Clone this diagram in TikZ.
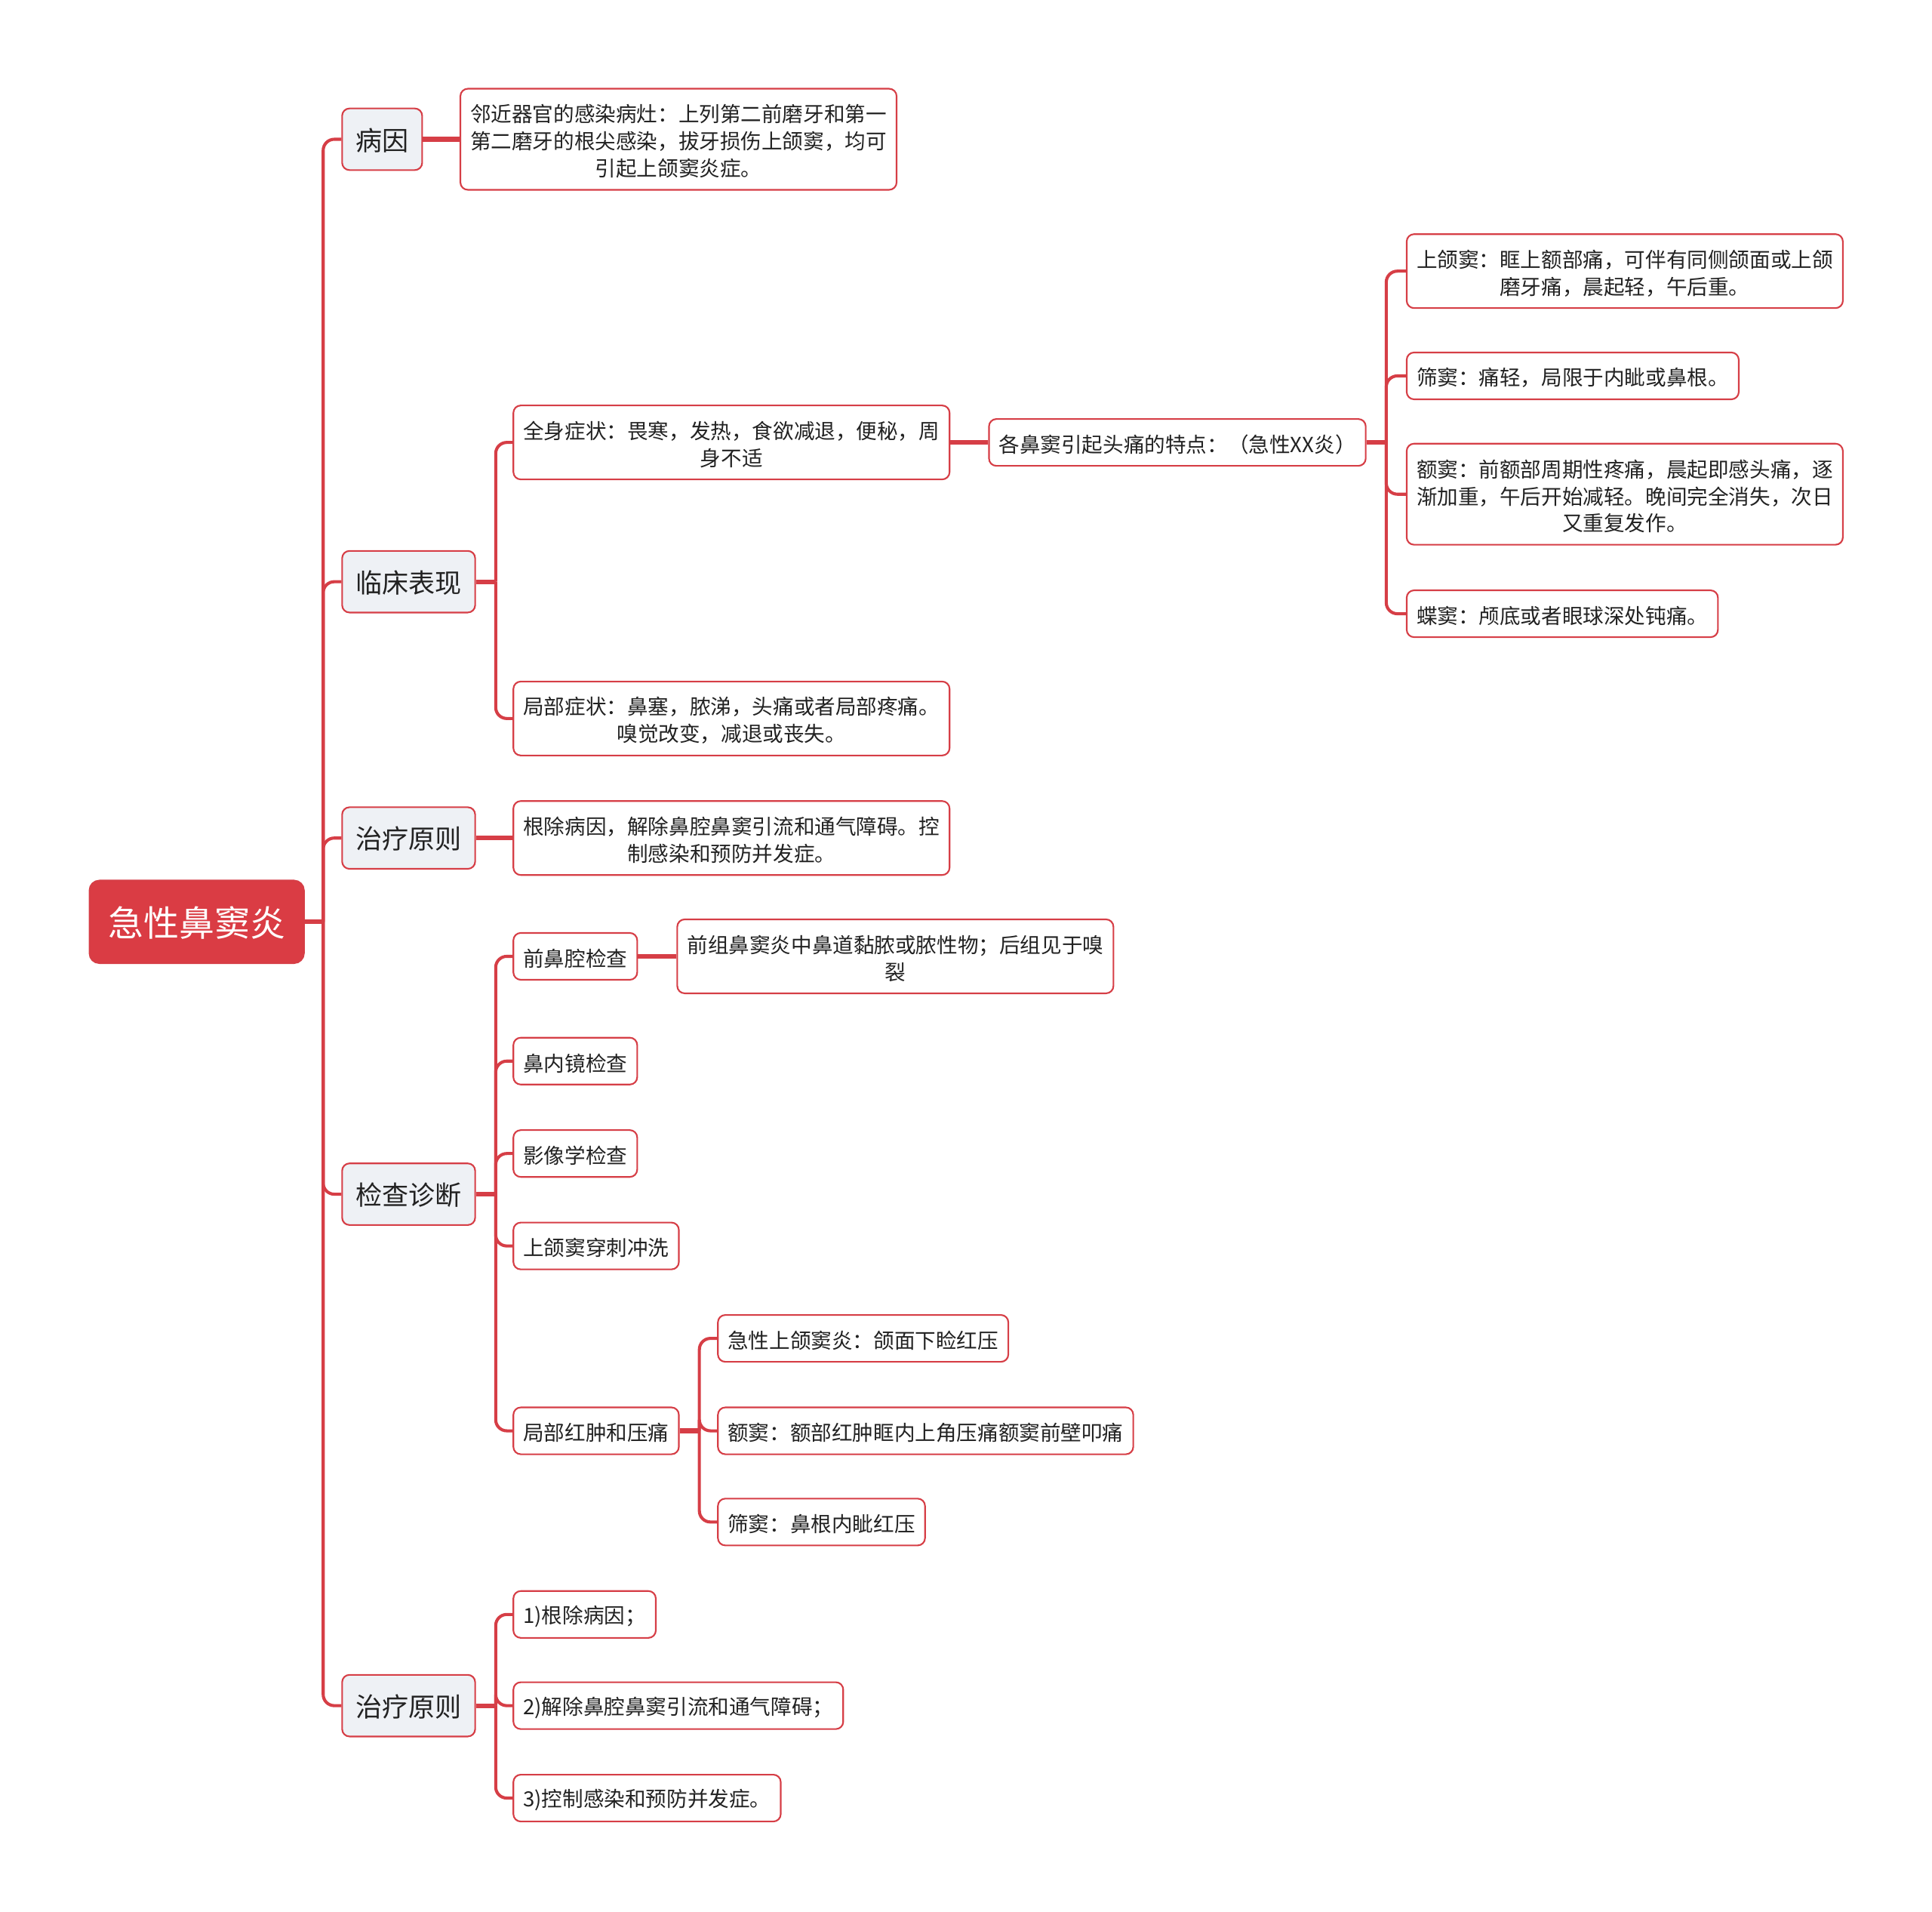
\documentclass[tikz,border=0pt]{standalone}
\usepackage{fontspec}
\setmainfont{Noto Sans CJK SC}
\usetikzlibrary{calc}
\definecolor{lnred}{RGB}{214,62,70}
\definecolor{rootred}{RGB}{218,60,68}
\definecolor{lvgray}{RGB}{238,241,245}
\definecolor{txt}{RGB}{34,34,34}
\newcommand{\dropstrut}[1]{\rule{0pt}{\dimexpr\fontcharht\font`鼻+#1\relax}}
\tikzset{
 base/.style={rounded corners=6pt, line width=1.3pt, draw=lnred, text=txt, inner ysep=2pt},
 rootbox/.style={base, fill=rootred, text=white, font=\fontsize{28.8}{34}\selectfont, inner xsep=15pt, minimum height=67pt, rounded corners=8pt, execute at begin node={\dropstrut{2pt}}},
 lvone/.style={base, fill=lvgray, font=\fontsize{21.5}{26}\selectfont, inner xsep=11pt, minimum height=50pt, execute at begin node={\dropstrut{1.5pt}}},
 leaf/.style={base, fill=white, font=\fontsize{16.9}{22}\selectfont, inner xsep=8pt, minimum height=38pt, execute at begin node={\dropstrut{3.5pt}}},
 wide/.style={text width=338pt, align=center},
 stub/.style={draw=lnred, line width=3.8pt},
 conn/.style={draw=lnred, line width=2.5pt, rounded corners=9pt},
}
\begin{document}
\begin{tikzpicture}[x=1pt,y=-1pt]
\useasboundingbox (0,0) rectangle (1568,1551);
% root
\node[rootbox, anchor=west] (root) at (72,748) {急性鼻窦炎};
% level one
\node[lvone, anchor=west] (a) at (277,113) {病因};
\node[lvone, anchor=west] (b) at (277,472) {临床表现};
\node[lvone, anchor=west] (c) at (277,680) {治疗原则};
\node[lvone, anchor=west] (d) at (277,969) {检查诊断};
\node[lvone, anchor=west] (e) at (277,1384) {治疗原则};
% leaves
\node[leaf, wide, minimum height=82pt, anchor=west] (a1) at (373,113) {邻近器官的感染病灶：上列第二前磨牙和第一\\第二磨牙的根尖感染，拔牙损伤上颌窦，均可\\引起上颌窦炎症。};
\node[leaf, wide, minimum height=60pt, anchor=west] (b1) at (416,359) {全身症状：畏寒，发热，食欲减退，便秘，周\\身不适};
\node[leaf, anchor=west] (b11) at (802,359) {各鼻窦引起头痛的特点：（急性XX炎）};
\node[leaf, wide, minimum height=60pt, anchor=west] (b111) at (1141,220) {上颌窦：眶上额部痛，可伴有同侧颌面或上颌\\磨牙痛，晨起轻，午后重。};
\node[leaf, anchor=west] (b112) at (1141,305) {筛窦：痛轻，局限于内眦或鼻根。};
\node[leaf, wide, minimum height=82pt, anchor=west] (b113) at (1141,401) {额窦：前额部周期性疼痛，晨起即感头痛，逐\\渐加重，午后开始减轻。晚间完全消失，次日\\又重复发作。};
\node[leaf, anchor=west] (b114) at (1141,498) {蝶窦：颅底或者眼球深处钝痛。};
\node[leaf, wide, minimum height=60pt, anchor=west] (b2) at (416,583) {局部症状：鼻塞，脓涕，头痛或者局部疼痛。\\嗅觉改变，减退或丧失。};
\node[leaf, wide, minimum height=60pt, anchor=west] (c1) at (416,680) {根除病因，解除鼻腔鼻窦引流和通气障碍。控\\制感染和预防并发症。};
\node[leaf, anchor=west] (d1) at (416,776) {前鼻腔检查};
\node[leaf, wide, minimum height=60pt, anchor=west] (d11) at (549,776) {前组鼻窦炎中鼻道黏脓或脓性物；后组见于嗅\\裂};
\node[leaf, anchor=west] (d2) at (416,861) {鼻内镜检查};
\node[leaf, anchor=west] (d3) at (416,936) {影像学检查};
\node[leaf, anchor=west] (d4) at (416,1011) {上颌窦穿刺冲洗};
\node[leaf, anchor=west] (d5) at (416,1161) {局部红肿和压痛};
\node[leaf, anchor=west] (d51) at (582,1086) {急性上颌窦炎：颌面下睑红压};
\node[leaf, anchor=west] (d52) at (582,1161) {额窦：额部红肿眶内上角压痛额窦前壁叩痛};
\node[leaf, anchor=west] (d53) at (582,1235) {筛窦：鼻根内眦红压};
\node[leaf, anchor=west] (e1) at (416,1310) {1)根除病因；};
\node[leaf, anchor=west] (e2) at (416,1384) {2)解除鼻腔鼻窦引流和通气障碍；};
\node[leaf, anchor=west] (e3) at (416,1459) {3)控制感染和预防并发症。};
% connectors
\coordinate (rj) at ($(root.east)+(15,0)$);
\draw[stub] (root.east) -- (rj);
\foreach \n in {a,b,c,d,e} \draw[conn] (rj) |- (\n.west);
\draw[stub] (a.east) -- (a1.west);
\coordinate (bj) at ($(b.east)+(16,0)$);
\draw[stub] (b.east) -- (bj);
\foreach \n in {b1,b2} \draw[conn] (bj) |- (\n.west);
\draw[stub] (b1.east) -- (b11.west);
\coordinate (b11j) at ($(b11.east)+(16,0)$);
\draw[stub] (b11.east) -- (b11j);
\foreach \n in {b111,b112,b113,b114} \draw[conn] (b11j) |- (\n.west);
\draw[stub] (c.east) -- (c1.west);
\coordinate (dj) at ($(d.east)+(16,0)$);
\draw[stub] (d.east) -- (dj);
\foreach \n in {d1,d2,d3,d4,d5} \draw[conn] (dj) |- (\n.west);
\draw[stub] (d1.east) -- (d11.west);
\coordinate (d5j) at ($(d5.east)+(16,0)$);
\draw[stub] (d5.east) -- (d5j);
\foreach \n in {d51,d52,d53} \draw[conn] (d5j) |- (\n.west);
\coordinate (ej) at ($(e.east)+(16,0)$);
\draw[stub] (e.east) -- (ej);
\foreach \n in {e1,e2,e3} \draw[conn] (ej) |- (\n.west);
\end{tikzpicture}
\end{document}
